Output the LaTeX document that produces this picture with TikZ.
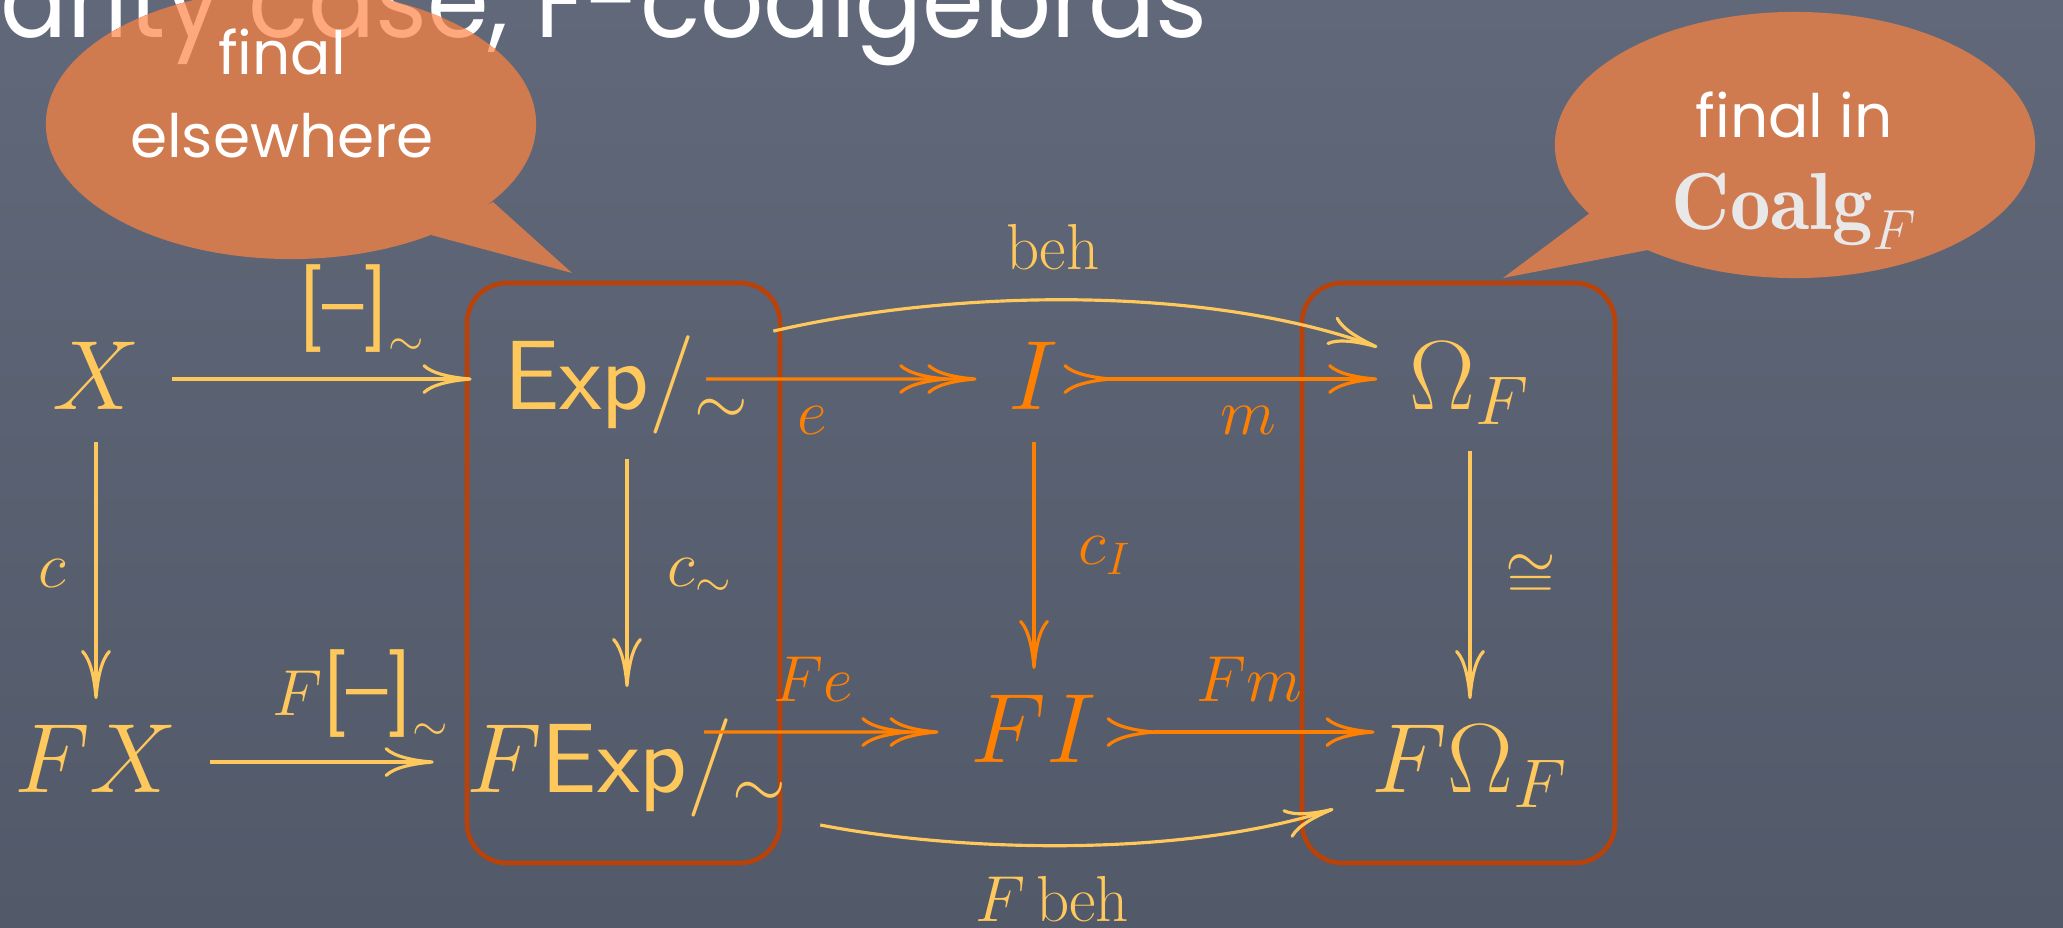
\documentclass[tikz,border=0pt]{standalone}
\usepackage{fix-cm}
\usepackage{fontspec}
\usetikzlibrary{arrows.meta}
\newfontfamily\popfont{Poppins}
\definecolor{bgtop}{RGB}{96,104,121}
\definecolor{bgbot}{RGB}{82,89,105}
\definecolor{yel}{RGB}{255,200,92}
\definecolor{org}{RGB}{255,128,0}
\definecolor{boxc}{RGB}{186,66,8}
\definecolor{bub}{RGB}{208,122,80}
\definecolor{salmon}{RGB}{255,168,125}
\definecolor{coalg}{RGB}{232,232,232}
\newcommand{\objsize}{\fontsize{28}{34}\selectfont}
\newcommand{\labsize}{\fontsize{18.5}{22}\selectfont}
\newcommand{\bubsize}{\fontsize{17}{20}\selectfont}
\newcommand{\brk}{\mbox{\fontsize{25}{30}\selectfont\sffamily[--]}}
\newcommand{\titletext}{\resizebox{12.06cm}{0.8cm}{\popfont arity case, F-coalgebras}}
\tikzset{
  obj/.style={anchor=base, inner xsep=9pt, inner ysep=6.5pt, text height=20pt, text depth=2.4pt, font=\objsize},
  lab/.style={anchor=base, inner sep=0pt, font=\labsize},
  bubtext/.style={anchor=base, inner sep=0pt, text=white, font=\bubsize\popfont},
  yarr/.style={draw=yel, line width=0.9pt, -{Computer Modern Rightarrow[length=14pt,width=8.5pt]}},
  oarr/.style={draw=org, line width=0.9pt, -{Computer Modern Rightarrow[length=14pt,width=8.5pt]}},
  oepi/.style={draw=org, line width=0.9pt, -{Computer Modern Rightarrow[length=14pt,width=8.5pt,sep=-6pt] Computer Modern Rightarrow[length=14pt,width=8.5pt]}},
  omono/.style={draw=org, line width=0.9pt, {Computer Modern Rightarrow[length=14pt,width=8.5pt,reversed]}-{Computer Modern Rightarrow[length=14pt,width=8.5pt]}},
  boxst/.style={draw=boxc, line width=1.3pt, rounded corners=0.4cm}
}
\begin{document}
\begin{tikzpicture}[x=0.01cm,y=-0.01cm]
\useasboundingbox (0,0) rectangle (2063,928);
\shade[top color=bgtop,bottom color=bgbot] (0,0) rectangle (2063,928);
% title (cut at top)
\node[anchor=base west,inner sep=0pt,text=white] (title) at (0,38) {\titletext};
% left bubble
\fill[bub] (291,124) ellipse [x radius=2.45cm,y radius=1.35cm];
\fill[bub] (493,202) -- (572,273) -- (431,235) -- cycle;
\begin{scope}
  \clip (291,124) ellipse [x radius=2.45cm,y radius=1.35cm];
  \node[anchor=base west,inner sep=0pt,text=salmon] (titleb) at (0,38) {\titletext};
\end{scope}
\node[bubtext] (b1a) at (282,75) {final};
\node[bubtext] (b1b) at (282,158) {elsewhere};
% right bubble
\fill[bub] (1795,145) ellipse [x radius=2.4cm,y radius=1.33cm];
\fill[bub] (1590,213) -- (1503,278) -- (1648,250) -- cycle;
\node[bubtext] (b2a) at (1794,138) {final in};
\node[anchor=base,inner sep=0pt,text=coalg,font=\fontsize{23}{27}\selectfont] (b2b) at (1795,230) {$\mathbf{Coalg}_F$};
% boxes
\draw[boxst] (467,283) rectangle (780,863);
\draw[boxst] (1302,283) rectangle (1615,863);
% objects
\node[obj,text=yel] (X) at (96,410) {$X$};
\node[obj,text=yel] (Exp) at (627,410) {$\mathsf{Exp}/_{\sim}$};
\node[obj,text=org] (I) at (1034,410) {$I$};
\node[obj,text=yel] (Om) at (1470,410) {$\Omega_F$};
\node[obj,text=yel] (FX) at (96,793) {$FX$};
\node[obj,text=yel] (FExp) at (627,793) {$F\mathsf{Exp}/_{\sim}$};
\node[obj,text=org] (FI) at (1034,763) {$FI$};
\node[obj,text=yel] (FOm) at (1470,793) {$F\Omega_F$};
\coordinate (eS) at (706,379);
\coordinate (FeS) at (704,732);
% yellow arrows
\draw[yarr] (X) -- (Exp);
\draw[yarr] (FX) -- (FExp);
\draw[yarr] (X) -- (FX);
\draw[yarr,shorten <=4.8pt,shorten >=3.4pt] (Exp) -- (FExp);
\draw[yarr,shorten <=2.5pt] (Om) -- (FOm);
\draw[yarr] ([shift={(-9,15)}]Exp.north east) .. controls (959,288) and (1209,286) .. ([shift={(0,31)}]Om.north west);
\draw[yarr] (FExp.south east) .. controls (960,852) and (1180,858) .. ([shift={(-6,-16)}]FOm.south west);
% orange arrows
\draw[oepi] (eS) -- (I);
\draw[omono,shorten <=-8pt] (I) -- (Om);
\draw[oarr] (I) -- (FI);
\draw[oepi] (FeS) -- (FI);
\draw[omono,shorten <=-6.5pt,shorten >=-10pt] (FI) -- (FI -| FOm.west);
% labels
\node[lab,text=yel] (l1) at (362,331) {$\brk_{\sim}$};
\node[lab,text=yel] (l2) at (52,588) {$c$};
\node[lab,text=yel] (l3) at (700,587) {$c_{\sim}$};
\node[lab,text=org] (l4) at (812,435) {$e$};
\node[lab,text=org] (l5) at (1248,435) {$m$};
\node[lab,text=org] (l6) at (1105,565) {$c_I$};
\node[lab,text=yel] (l7) at (1053,270) {$\mathrm{beh}$};
\node[lab,text=yel] (l8) at (1531,598) {$\cong$};
\node[lab,text=yel] (l9) at (361,716) {$F\brk_{\sim}$};
\node[lab,text=org] (l10) at (813,702) {$Fe$};
\node[lab,text=org] (l11) at (1249,702) {$Fm$};
\node[lab,text=yel] (l12) at (1052,922) {$F\,\mathrm{beh}$};
\end{tikzpicture}
\end{document}
